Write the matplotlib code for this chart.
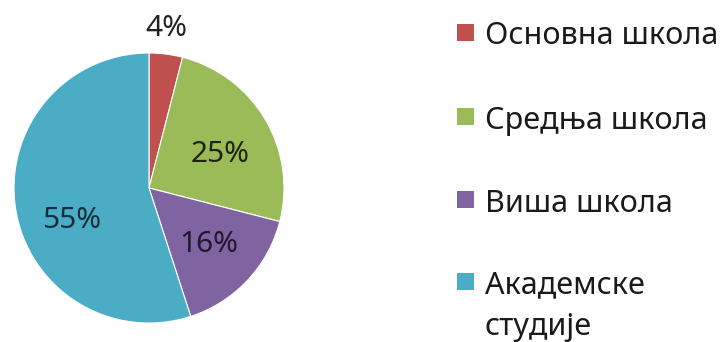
import matplotlib
matplotlib.use("Agg")
import matplotlib.pyplot as plt
import numpy as np
from matplotlib.patches import Rectangle
from matplotlib.transforms import Affine2D

# Education level shares (percent)
categories = ["Основна школа", "Средња школа", "Виша школа", "Академске\nстудије"]
shares = [4, 25, 16, 55]
colors = ["#C0504D", "#9BBB59", "#8064A2", "#4BACC6"]
label_colors = ["#222222", "#1c2410", "#21172d", "#12303a"]
# radial distance of each percentage label (in radii) and small angular nudge (deg)
label_radius = [1.19, 0.58, 0.61, 0.62]
label_nudge = [1.0, -5.5, -0.5, 14.0]

W, H = 724, 342
fig = plt.figure(figsize=(W / 100, H / 100), dpi=100)
fig.patch.set_facecolor("white")
FONT = ["Noto Sans", "DejaVu Sans"]

# pie axes: centre (149, 188) px from top-left, radius 135 px
cx, cy, r = 149, 188, 135
ax = fig.add_axes([(cx - r) / W, (H - cy - r) / H, 2 * r / W, 2 * r / H])
wedges, _ = ax.pie(shares, colors=colors, startangle=90, counterclock=False,
                   radius=1.0, wedgeprops=dict(edgecolor="white", linewidth=0.8))
ax.set_xlim(-1, 1)
ax.set_ylim(-1, 1)
ax.set_aspect("equal")
ax.axis("off")

for w, val, rad, nud, tc in zip(wedges, shares, label_radius, label_nudge, label_colors):
    mid = np.deg2rad((w.theta1 + w.theta2) / 2 + nud)
    ax.text(rad * np.cos(mid), rad * np.sin(mid), f"{val}%", ha="center", va="center",
            fontsize=21.5, color=tc, family=FONT, clip_on=False)

# legend drawn in pixel coordinates (origin top-left)
px = Affine2D().scale(1 / W, -1 / H).translate(0, 1) + fig.transFigure
row_y = [32, 116, 199, 281]
line_gap = 41
for cat, col, y in zip(categories, colors, row_y):
    fig.patches.append(Rectangle((457, y - 8.5), 17, 17, facecolor=col,
                                 edgecolor="none", transform=px))
    for k, line in enumerate(cat.split("\n")):
        fig.text(485, y + 1 + k * line_gap, line, transform=px, ha="left",
                 va="center_baseline", fontsize=22, color="#1a1a1a", family=FONT)

fig.savefig("out.png", dpi=100, facecolor="white")
